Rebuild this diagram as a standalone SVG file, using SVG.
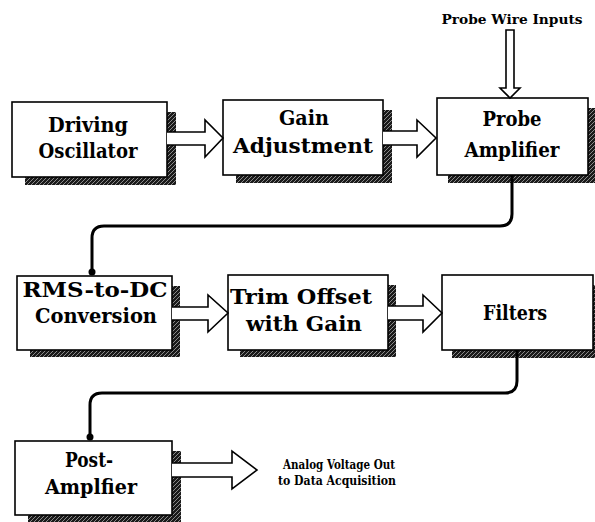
<svg xmlns="http://www.w3.org/2000/svg" width="595" height="522" viewBox="0 0 595 522">
  <defs>
    <!-- speckled drop-shadow texture -->
    <pattern id="hatch" width="4" height="4" patternUnits="userSpaceOnUse">
      <rect width="4" height="4" fill="#1a1a1a"/>
      <path d="M0,4 L4,0" stroke="#ffffff" stroke-width="0.7" opacity="0.7"/>
    </pattern>
    <marker id="dot" viewBox="0 0 8 8" refX="4" refY="4" markerWidth="8" markerHeight="8" markerUnits="userSpaceOnUse">
      <circle cx="4" cy="4" r="3.5" fill="#000"/>
    </marker>
  </defs>
  <style>
    .box { fill: #ffffff; stroke: #000; stroke-width: 1.6; }
    .shadow { fill: url(#hatch); }
    .big { font-family: "DejaVu Serif", "Liberation Serif", serif; font-size: 20px; font-weight: bold; fill: #000; text-anchor: middle; }
    .small { font-family: "DejaVu Serif", "Liberation Serif", serif; font-size: 13.5px; font-weight: bold; fill: #000; text-anchor: middle; }
    .blk { fill: #ffffff; stroke: #000; stroke-width: 1.6; stroke-linejoin: miter; }
    .wire { fill: none; stroke: #000; stroke-width: 3; }
  </style>
  <rect width="595" height="522" fill="#ffffff"/>

  <!-- Row 1 -->
  <g id="driving-oscillator">
    <rect class="shadow" x="167" y="112" width="9" height="73"/>
    <rect class="shadow" x="25" y="177" width="151" height="8"/>
    <rect class="box" x="12" y="102" width="155" height="75"/>
    <text class="big" x="88" y="132" textLength="80" lengthAdjust="spacingAndGlyphs">Driving</text>
    <text class="big" x="88" y="158" textLength="99" lengthAdjust="spacingAndGlyphs">Oscillator</text>
  </g>
  <g id="gain-adjustment">
    <rect class="shadow" x="383" y="110" width="9" height="73"/>
    <rect class="shadow" x="236" y="175" width="156" height="8"/>
    <rect class="box" x="223" y="100" width="160" height="75"/>
    <text class="big" x="304" y="125" textLength="50" lengthAdjust="spacingAndGlyphs">Gain</text>
    <text class="big" x="303" y="153" textLength="140" lengthAdjust="spacingAndGlyphs">Adjustment</text>
  </g>
  <g id="probe-amplifier">
    <rect class="shadow" x="588" y="108" width="9" height="75"/>
    <rect class="shadow" x="448" y="175" width="149" height="8"/>
    <rect class="box" x="437" y="98" width="151" height="77"/>
    <text class="big" x="512" y="126" textLength="59" lengthAdjust="spacingAndGlyphs">Probe</text>
    <text class="big" x="512" y="157" textLength="95" lengthAdjust="spacingAndGlyphs">Amplifier</text>
  </g>

  <!-- Row 2 -->
  <g id="rms-to-dc">
    <rect class="shadow" x="172" y="286" width="8" height="71"/>
    <rect class="shadow" x="30" y="350" width="150" height="7"/>
    <rect class="box" x="17" y="276" width="155" height="74"/>
    <text class="big" x="95" y="297" textLength="145" lengthAdjust="spacingAndGlyphs">RMS-to-DC</text>
    <text class="big" x="96" y="323" textLength="122" lengthAdjust="spacingAndGlyphs">Conversion</text>
  </g>
  <g id="trim-offset">
    <rect class="shadow" x="388" y="285" width="8" height="72"/>
    <rect class="shadow" x="240" y="350" width="156" height="7"/>
    <rect class="box" x="228" y="275" width="160" height="75"/>
    <text class="big" x="301" y="304" textLength="142" lengthAdjust="spacingAndGlyphs">Trim Offset</text>
    <text class="big" x="304" y="331" textLength="116" lengthAdjust="spacingAndGlyphs">with Gain</text>
  </g>
  <g id="filters">
    <rect class="shadow" x="593" y="285" width="8" height="73"/>
    <rect class="shadow" x="452" y="350" width="149" height="8"/>
    <rect class="box" x="442" y="275" width="151" height="75"/>
    <text class="big" x="515" y="320" textLength="64" lengthAdjust="spacingAndGlyphs">Filters</text>
  </g>

  <!-- Row 3 -->
  <g id="post-amplifier">
    <rect class="shadow" x="172" y="451" width="9" height="71"/>
    <rect class="shadow" x="28" y="515" width="153" height="7"/>
    <rect class="box" x="15" y="441" width="157" height="74"/>
    <text class="big" x="89" y="467" textLength="48" lengthAdjust="spacingAndGlyphs">Post-</text>
    <text class="big" x="91" y="494" textLength="92" lengthAdjust="spacingAndGlyphs">Amplfier</text>
  </g>

  <!-- Labels outside the boxes -->
  <g id="probe-wire-inputs">
    <text class="small" x="512" y="24" textLength="141" lengthAdjust="spacingAndGlyphs">Probe Wire Inputs</text>
  </g>
  <g id="analog-out">
    <text class="small" x="339" y="469" textLength="112" lengthAdjust="spacingAndGlyphs">Analog Voltage Out</text>
    <text class="small" x="337" y="485" textLength="118" lengthAdjust="spacingAndGlyphs">to Data Acquisition</text>
  </g>

  <!-- Connectors: hollow block arrows and signal wires -->
  <g id="connectors">
    <path class="blk" d="M167,132 H205 V120 L223,138 L205,157 V145 H167"/>
    <path class="blk" d="M383,131 H417 V120 L436,138 L417,157 V145 H383"/>
    <path class="blk" d="M172,307 H208 V295 L228,313 L208,332 V320 H172"/>
    <path class="blk" d="M388,306 H423 V295 L442,313 L423,332 V320 H388"/>
    <path class="blk" d="M172,463 H232 V451 L257,470 L232,489 V477 H172"/>
    <path class="blk" d="M506,30 H514 V88 H520 L510,98 L500,88 H506 Z"/>
    <path class="wire" d="M512,175 V214 Q512,226 500,226 H104 Q92,226 92,238 V272" marker-end="url(#dot)"/>
    <path class="wire" d="M517,350 V381 Q517,393 505,393 H102 Q90,393 90,405 V437" marker-end="url(#dot)"/>
  </g>
</svg>
